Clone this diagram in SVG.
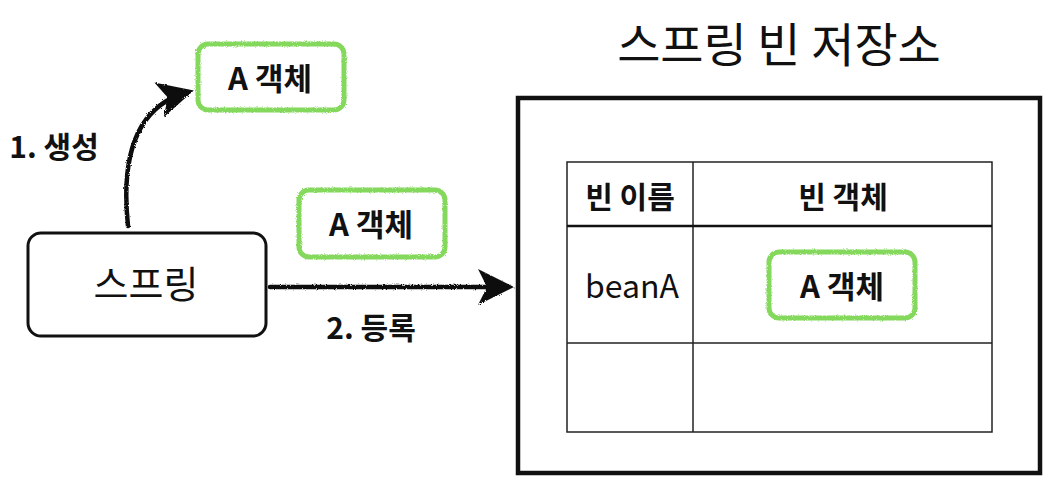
<svg xmlns="http://www.w3.org/2000/svg" width="1062" height="496" viewBox="0 0 1062 496">
<style>
text{font-family:"Noto Sans CJK KR","Liberation Sans",sans-serif;fill:#111;text-anchor:middle}
.b{font-weight:bold}
.green{fill:#fff;stroke:#84d85c;stroke-width:5}
.conn{fill:none;stroke:#111;stroke-width:4.5;stroke-linecap:round}
.cell{fill:none;stroke:#222;stroke-width:1.5}
</style>
<defs>
<filter id="rough" filterUnits="userSpaceOnUse" x="0" y="0" width="1062" height="496">
<feTurbulence type="fractalNoise" baseFrequency="0.9" numOctaves="2" result="n"/>
<feDisplacementMap in="SourceGraphic" in2="n" scale="3"/>
</filter>
<marker id="ah" viewBox="0 0 12 12" refX="10" refY="6" markerWidth="8" markerHeight="8" orient="auto" markerUnits="strokeWidth">
<path d="M0,0 L12,6 L0,12 L3,6 Z" fill="#111"/>
</marker>
</defs>

<g id="title"><text x="779" y="62" font-size="47">스프링 빈 저장소</text></g>

<g id="spring">
<rect x="28" y="233" width="238" height="103" rx="13" fill="#fff" stroke="#111" stroke-width="3"/>
<text x="146" y="298" font-size="38">스프링</text>
</g>

<g id="objA-created">
<rect class="green" x="198" y="44" width="146" height="66" rx="10" filter="url(#rough)"/>
<text class="b" x="270" y="90" font-size="31">A 객체</text>
</g>

<g id="objA-transit">
<rect class="green" x="299" y="190" width="146" height="67" rx="10" filter="url(#rough)"/>
<text class="b" x="371" y="236" font-size="31">A 객체</text>
</g>

<g id="container">
<rect x="518" y="98" width="522" height="375" fill="none" stroke="#111" stroke-width="4.5"/>
</g>

<g id="table">
<rect class="cell" x="567" y="162" width="425" height="270"/>
<line class="cell" x1="693" y1="162" x2="693" y2="432"/>
<line x1="567" y1="226" x2="992" y2="226" stroke="#111" stroke-width="2.5"/>
<line class="cell" x1="567" y1="343" x2="992" y2="343"/>
<text class="b" x="630" y="208" font-size="30">빈 이름</text>
<text class="b" x="843" y="208" font-size="30">빈 객체</text>
<text x="632" y="298" font-size="32" font-family="Liberation Sans,sans-serif">beanA</text>
</g>

<g id="objA-stored">
<rect class="green" x="769" y="252" width="146" height="66" rx="10" filter="url(#rough)"/>
<text class="b" x="842" y="298" font-size="31">A 객체</text>
</g>

<g id="connectors">
<path class="conn" d="M128,226 C120,150 140,105 188,92" marker-end="url(#ah)" filter="url(#rough)"/>
<path class="conn" d="M270,287 L508,287" marker-end="url(#ah)" filter="url(#rough)"/>
<text class="b" x="54" y="158" font-size="30">1. 생성</text>
<text class="b" x="371" y="339" font-size="30">2. 등록</text>
</g>
</svg>
